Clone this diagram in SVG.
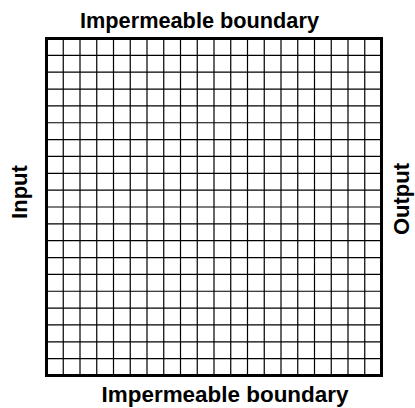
<svg xmlns="http://www.w3.org/2000/svg" width="415" height="408" viewBox="0 0 415 408">
<style>
.lbl{font-family:"Liberation Sans",Arial,sans-serif;font-weight:bold;font-size:22px;fill:#000}
.grid{stroke:#000;stroke-width:1.2;fill:none}
.frame{stroke:#000;stroke-width:3;fill:none}
</style>
<rect width="415" height="408" fill="#fff"/>
<g id="grid">
<path class="grid" d="M63.25 38.5V375.5M80 38.5V375.5M96.75 38.5V375.5M113.5 38.5V375.5M130.25 38.5V375.5M147 38.5V375.5M163.75 38.5V375.5M180.5 38.5V375.5M197.25 38.5V375.5M214 38.5V375.5M230.75 38.5V375.5M247.5 38.5V375.5M264.25 38.5V375.5M281 38.5V375.5M297.75 38.5V375.5M314.5 38.5V375.5M331.25 38.5V375.5M348 38.5V375.5M364.75 38.5V375.5"/>
<path class="grid" d="M46.5 55.35H381.5M46.5 72.2H381.5M46.5 89.05H381.5M46.5 105.9H381.5M46.5 122.75H381.5M46.5 139.6H381.5M46.5 156.45H381.5M46.5 173.3H381.5M46.5 190.15H381.5M46.5 207H381.5M46.5 223.85H381.5M46.5 240.7H381.5M46.5 257.55H381.5M46.5 274.4H381.5M46.5 291.25H381.5M46.5 308.1H381.5M46.5 324.95H381.5M46.5 341.8H381.5M46.5 358.65H381.5"/>
<rect class="frame" x="46.5" y="38.5" width="335" height="337"/>
</g>
<g id="labels">
<text class="lbl" x="199.5" y="27.5" text-anchor="middle" textLength="239" lengthAdjust="spacingAndGlyphs">Impermeable boundary</text>
<text class="lbl" x="225" y="401.5" text-anchor="middle" textLength="247" lengthAdjust="spacingAndGlyphs">Impermeable boundary</text>
<text class="lbl" transform="translate(27,192) rotate(-90)" text-anchor="middle">Input</text>
<text class="lbl" transform="translate(409,199) rotate(-90)" text-anchor="middle">Output</text>
</g>
</svg>
